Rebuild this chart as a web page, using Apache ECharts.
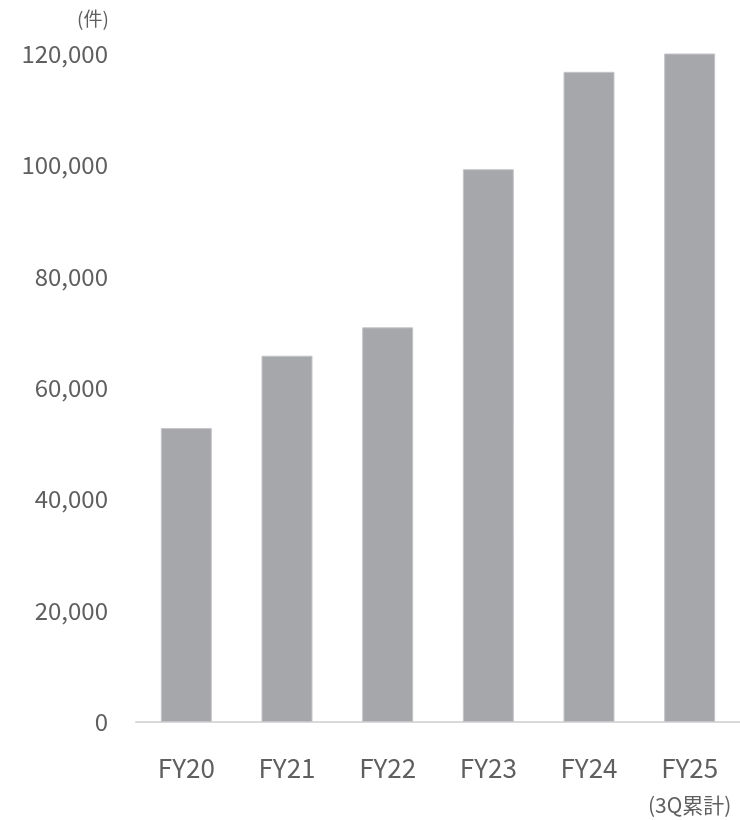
<!DOCTYPE html>
<html>
<head>
<meta charset="utf-8">
<script src="https://cdn.jsdelivr.net/npm/echarts@6/dist/echarts.min.js"></script>
<style>
  html, body { margin: 0; padding: 0; background: #fff; }
  #chart { width: 740px; height: 820px; }
</style>
</head>
<body>
<div id="chart"></div>
<script>
// Annual case counts (件)
const categories = ['FY20', 'FY21', 'FY22', 'FY23', 'FY24', 'FY25'];
const caseCounts = [52800, 65800, 70900, 99300, 116800, 120600];
const yTicks = { min: 0, max: 120000, interval: 20000 };
const unitLabel = '(件)';
const periodNote = { FY25: '(3Q累計)' };

const FONT = '"Noto Sans CJK JP", "Noto Sans", sans-serif';
const TEXT = '#5f5f5f';

const chart = echarts.init(document.getElementById('chart'), null, { renderer: 'canvas' });
chart.setOption({
  animation: false,
  title: {
    text: unitLabel,
    left: 72,
    top: 4,
    textStyle: { fontFamily: FONT, fontSize: 19, fontWeight: 'normal', color: TEXT }
  },
  grid: { left: 136, right: 0, top: 54, bottom: 98, containLabel: false },
  xAxis: {
    type: 'category',
    data: categories,
    axisLine: { lineStyle: { color: '#d9d9d9', width: 2 } },
    axisTick: { show: false },
    axisLabel: {
      interval: 0,
      margin: 31,
      formatter: (v) => periodNote[v] ? '{main|' + v + '}\n{note|' + periodNote[v] + '}' : '{main|' + v + '}',
      rich: {
        main: { fontFamily: FONT, fontSize: 26, color: TEXT, lineHeight: 30 },
        note: { fontFamily: FONT, fontSize: 21, color: TEXT, lineHeight: 44 }
      }
    }
  },
  yAxis: {
    type: 'value',
    min: yTicks.min,
    max: yTicks.max,
    interval: yTicks.interval,
    axisLine: { show: false },
    axisTick: { show: false },
    splitLine: { show: false },
    axisLabel: {
      margin: 28,
      fontFamily: FONT,
      fontSize: 24,
      color: TEXT,
      formatter: (v) => v.toLocaleString('en-US')
    }
  },
  series: [{
    type: 'bar',
    data: caseCounts,
    barWidth: 51,
    itemStyle: { color: '#a6a7ab', borderColor: '#c4c5c8', borderWidth: 1 }
  }]
});
</script>
</body>
</html>
